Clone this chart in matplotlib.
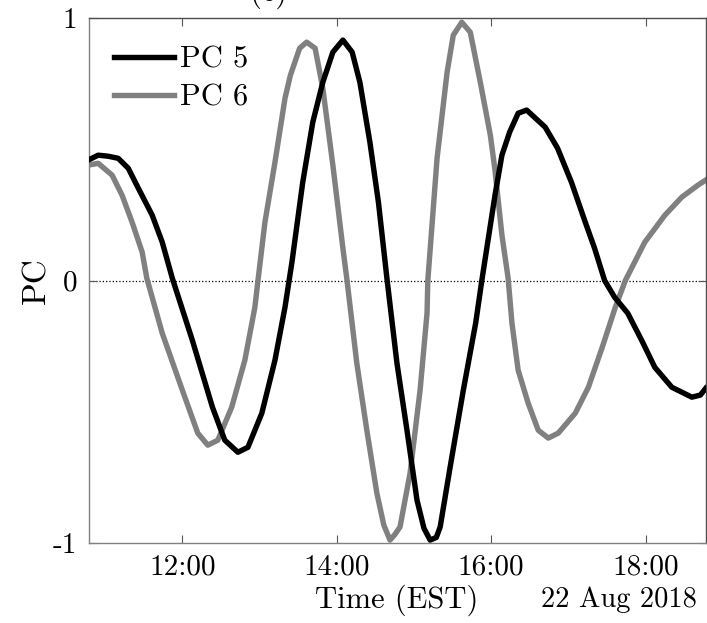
import numpy as np
import matplotlib
matplotlib.use("Agg")
import matplotlib.pyplot as plt

plt.rcParams['font.family'] = 'serif'
plt.rcParams['font.serif'] = ['cmr10']
plt.rcParams['axes.unicode_minus'] = False
plt.rcParams['mathtext.fontset'] = 'cm'

# time in hours (EST) on 22 Aug 2018
t_pc5 = [10.78, 10.91, 11.04, 11.17, 11.30, 11.43, 11.61, 11.74, 11.87, 12.13,
         12.39, 12.55, 12.72, 12.85, 13.03, 13.20, 13.33, 13.42, 13.56, 13.69,
         13.82, 13.95, 14.08, 14.20, 14.30, 14.43, 14.54, 14.65, 14.78, 14.91,
         15.04, 15.13, 15.21, 15.29, 15.34, 15.47, 15.64, 15.80, 15.88, 16.05,
         16.14, 16.24, 16.35, 16.46, 16.70, 16.86, 17.04, 17.22, 17.34, 17.47,
         17.60, 17.77, 17.95, 18.12, 18.34, 18.60, 18.71, 18.78]
pc5 = [0.459, 0.478, 0.474, 0.466, 0.428, 0.352, 0.249, 0.146, 0.009, -0.228,
       -0.483, -0.609, -0.655, -0.636, -0.506, -0.304, -0.102, 0.07, 0.375, 0.604,
       0.756, 0.871, 0.917, 0.871, 0.756, 0.527, 0.299, 0.009, -0.315, -0.571,
       -0.838, -0.945, -0.990, -0.98, -0.94, -0.71, -0.418, -0.162, 0.001, 0.325,
       0.478, 0.566, 0.638, 0.650, 0.585, 0.505, 0.375, 0.222, 0.123, 0.0,
       -0.064, -0.125, -0.228, -0.331, -0.407, -0.445, -0.437, -0.411]

t_pc6 = [10.78, 10.91, 11.09, 11.22, 11.35, 11.48, 11.54, 11.74, 12.00, 12.20,
         12.33, 12.46, 12.64, 12.81, 12.94, 12.98, 13.07, 13.20, 13.33, 13.40,
         13.52, 13.61, 13.72, 13.82, 13.95, 14.08, 14.13, 14.26, 14.39, 14.52,
         14.61, 14.69, 14.75, 14.82, 14.95, 15.08, 15.17, 15.18, 15.30, 15.43,
         15.51, 15.62, 15.73, 15.86, 15.99, 16.05, 16.14, 16.22, 16.27, 16.35,
         16.48, 16.61, 16.74, 16.87, 17.09, 17.26, 17.44, 17.61, 17.74, 17.99,
         18.25, 18.47, 18.68, 18.78]
pc6 = [0.440, 0.447, 0.402, 0.325, 0.222, 0.108, 0.009, -0.201, -0.418, -0.582,
       -0.628, -0.609, -0.483, -0.304, -0.102, 0.0, 0.222, 0.451, 0.695, 0.783,
       0.886, 0.909, 0.886, 0.733, 0.440, 0.123, 0.009, -0.315, -0.571, -0.811,
       -0.933, -0.990, -0.97, -0.94, -0.735, -0.418, -0.124, 0.0, 0.467, 0.795,
       0.936, 0.985, 0.947, 0.756, 0.554, 0.421, 0.173, 0.009, -0.163, -0.342,
       -0.468, -0.571, -0.601, -0.582, -0.506, -0.407, -0.254, -0.101, 0.001, 0.146,
       0.249, 0.318, 0.364, 0.383]

xticks = [12, 14, 16, 18]
xticklabels = ['12:00', '14:00', '16:00', '18:00']
yticks = [-1, 0, 1]
yticklabels = ['-1', '0', '1']

fig = plt.figure(figsize=(7.07, 6.23), dpi=100)
ax = fig.add_axes([0.1252, 0.1289, 0.8727, 0.8417])

ax.axhline(0, color='k', lw=0.9, ls=':', zorder=1)
ax.plot(t_pc5, pc5, color='k', lw=3.9, label='PC 5', zorder=3)
ax.plot(t_pc6, pc6, color='#808080', lw=3.9, label='PC 6', zorder=2)

ax.set_xlim(10.785, 18.777)
ax.set_ylim(-1, 1)
ax.set_xticks(xticks)
ax.set_xticklabels(xticklabels)
ax.set_yticks(yticks)
ax.set_yticklabels(yticklabels)
ax.tick_params(direction='in', length=6, width=0.8, color='#555555',
               labelsize=21, top=True, right=True, pad=8)

for side in ['left', 'bottom']:
    ax.spines[side].set_color('#808080')
for side in ['top', 'right']:
    ax.spines[side].set_color('#4d4d4d')
for sp in ax.spines.values():
    sp.set_linewidth(1.0)

ax.set_ylabel('PC', fontsize=24, labelpad=1)
ax.set_xlabel('Time (EST)', fontsize=22)
ax.xaxis.set_label_coords(0.5, -0.125)
ax.xaxis.label.set_va('baseline')

fig.text(0.986, 0.025, '22 Aug 2018', fontsize=20.5, ha='right', va='baseline')
fig.text(0.38, 0.998, '(c)', fontsize=22, ha='center', va='baseline')

ax.legend(loc='upper left', frameon=False, fontsize=22, handlelength=1.95,
          handletextpad=0.2, labelspacing=0.35, borderaxespad=0.45,
          bbox_to_anchor=(0.0, 0.997))

fig.savefig('out.png', dpi=100)
